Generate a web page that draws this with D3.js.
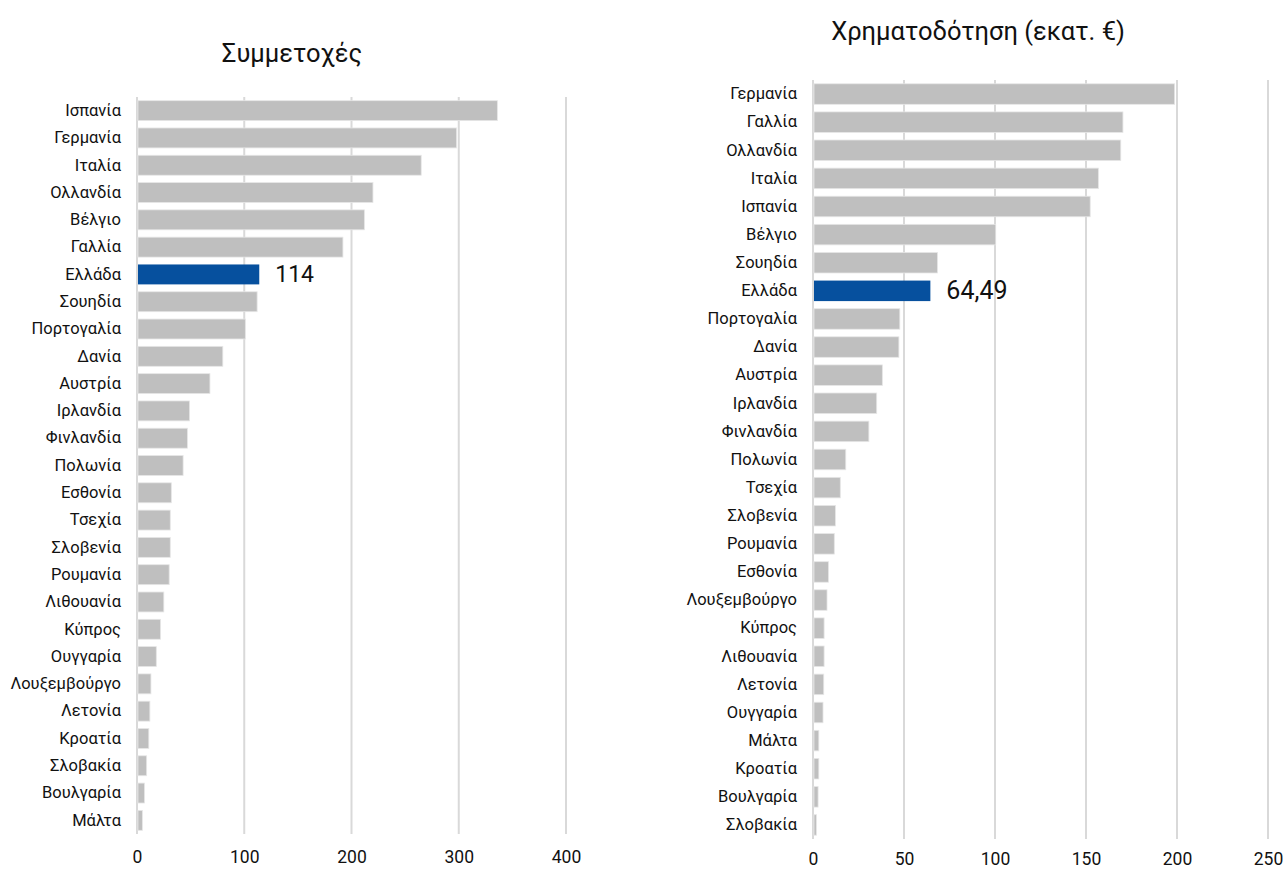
<!DOCTYPE html>
<html><head><meta charset="utf-8">
<script src="https://cdn.jsdelivr.net/npm/d3@7"></script>
<style>
body{margin:0;background:#fff;}
svg text{font-family:"Roboto","Noto Sans",sans-serif;fill:#111;}
</style></head>
<body><svg id="c" width="1288" height="870"></svg>
<script>
// ---- Data ----
const leftTitle = "Συμμετοχές";
const leftCountries = ["Ισπανία","Γερμανία","Ιταλία","Ολλανδία","Βέλγιο","Γαλλία","Ελλάδα","Σουηδία","Πορτογαλία","Δανία","Αυστρία","Ιρλανδία","Φινλανδία","Πολωνία","Εσθονία","Τσεχία","Σλοβενία","Ρουμανία","Λιθουανία","Κύπρος","Ουγγαρία","Λουξεμβούργο","Λετονία","Κροατία","Σλοβακία","Βουλγαρία","Μάλτα"];
const leftValues = [336,298,265,220,212,192,114,112,101,80,68,49,47,43,32,31,31,30,25,22,18,13,12,11,9,7,5];
const leftTicks = [0,100,200,300,400];

const rightTitle = "Χρηματοδότηση (εκατ. €)";
const rightCountries = ["Γερμανία","Γαλλία","Ολλανδία","Ιταλία","Ισπανία","Βέλγιο","Σουηδία","Ελλάδα","Πορτογαλία","Δανία","Αυστρία","Ιρλανδία","Φινλανδία","Πολωνία","Τσεχία","Σλοβενία","Ρουμανία","Εσθονία","Λουξεμβούργο","Κύπρος","Λιθουανία","Λετονία","Ουγγαρία","Μάλτα","Κροατία","Βουλγαρία","Σλοβακία"];
const rightValues = [198.7,170.3,169.1,156.8,152.3,100.4,68.4,64.49,47.7,47.2,38.1,35.0,30.7,18.0,15.0,12.3,11.7,8.5,7.7,6.1,6.1,5.9,5.5,3.2,3.2,2.8,1.9];
const rightTicks = [0,50,100,150,200,250];

const highlight = "Ελλάδα";
const leftLabel = "114";
const rightLabel = "64,49";

const svg = d3.select("#c");

function panel(cfg){
  const g = svg.append("g");
  const x = d3.scaleLinear().domain([0, cfg.max]).range([cfg.x0, cfg.x1]);
  const y = d3.scaleBand().domain(cfg.cats).range([cfg.y0, cfg.y1]).paddingInner(0.27).paddingOuter(0.135);
  // gridlines
  g.append("g").selectAll("line").data(cfg.ticks).join("line")
    .attr("x1", d=>x(d)).attr("x2", d=>x(d))
    .attr("y1", cfg.y0).attr("y2", cfg.y1)
    .attr("stroke", "#d9d9d9").attr("stroke-width", 2);
  // bars
  g.append("g").selectAll("rect").data(cfg.cats).join("rect")
    .attr("x", x(0)+1)
    .attr("y", d=>y(d))
    .attr("width", (d,i)=>Math.max(0, x(cfg.vals[i]) - x(0) - 1))
    .attr("height", y.bandwidth())
    .attr("fill", d=> d===highlight ? "#06509e" : "#bfbfbf")
    .attr("stroke", d=> d===highlight ? "none" : "#e6e6e6")
    .attr("stroke-width", 0.8);
  // category axis
  const ya = d3.axisLeft(y).tickSize(0).tickPadding(0);
  const yg = g.append("g").attr("transform", `translate(${cfg.x0 - 16},0)`).call(ya);
  yg.select(".domain").remove();
  yg.selectAll("text").attr("font-size", 16.5).style("fill","#111");
  // value axis
  const xa = d3.axisBottom(x).tickValues(cfg.ticks).tickSize(0).tickPadding(0).tickFormat(d3.format("d"));
  const xg = g.append("g").attr("transform", `translate(0,${cfg.tickY})`).call(xa);
  xg.select(".domain").remove();
  xg.selectAll("text").attr("font-size", 17.5).attr("dy", "0.35em").style("fill","#111");
  // title
  g.append("text").attr("x", cfg.titleX).attr("y", cfg.titleY)
    .attr("text-anchor","middle").attr("dominant-baseline","middle")
    .attr("font-size", cfg.titleSize).text(cfg.title);
  // value label
  const hi = cfg.cats.indexOf(highlight);
  g.append("text").attr("x", x(cfg.vals[hi]) + 16).attr("y", y(highlight) + y.bandwidth()/2)
    .attr("dominant-baseline","central").attr("font-size", cfg.labelSize).text(cfg.label);
}

panel({cats:leftCountries, vals:leftValues, ticks:leftTicks, max:400, x0:137, x1:566,
  y0:97, y1:834, tickY:857, title:leftTitle, titleX:292, titleY:55, titleSize:25.5, label:leftLabel, labelSize:23});
panel({cats:rightCountries, vals:rightValues, ticks:rightTicks, max:250, x0:813, x1:1268,
  y0:80, y1:839, tickY:859, title:rightTitle, titleX:978, titleY:33, titleSize:25.5, label:rightLabel, labelSize:25});
</script>
</body></html>
